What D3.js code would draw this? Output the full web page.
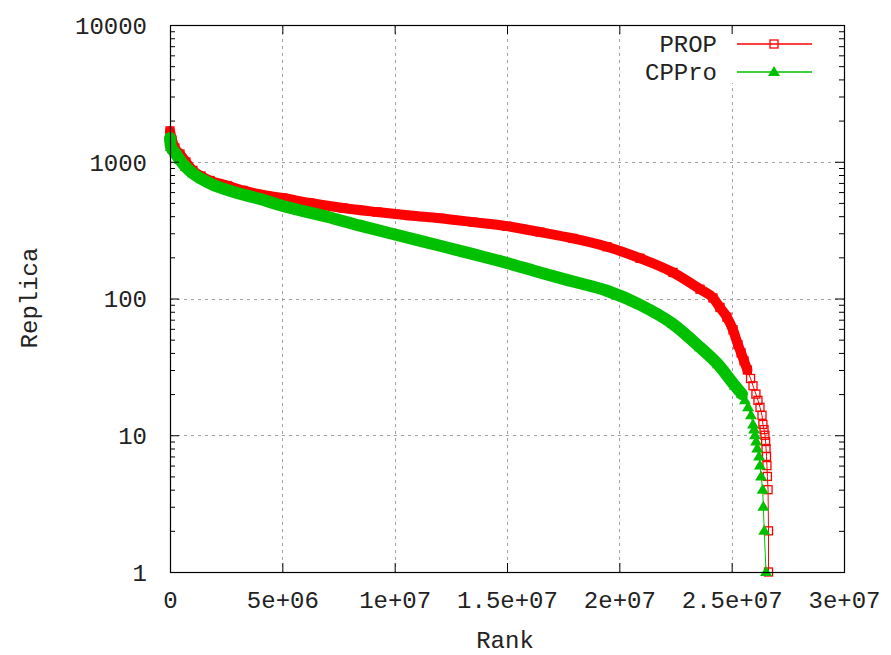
<!DOCTYPE html>
<html>
<head>
<meta charset="utf-8">
<script src="https://cdn.jsdelivr.net/npm/d3@7"></script>
<style>
  body { margin: 0; background: #fff; }
  svg text { font-family: "Liberation Mono", "DejaVu Sans Mono", monospace; fill: #222; }
</style>
</head>
<body>
<div id="chart"></div>
<script>
// data
var propRank = [0, 89000, 220000, 445000, 710000, 1020000, 1380000, 1780000, 2540000, 3250000,
    4010000, 5030000, 6230000, 7700000, 9210000, 10680000, 12020000, 13490000, 14990000, 16470000,
    17940000, 19450000, 20920000, 22390000, 23590000, 24170000, 24480000, 24790000, 25060000, 25280000,
    25420000, 25550000, 25700000, 25840000, 25950000, 26080000, 26170000, 26260000, 26350000, 26390000,
    26440000, 26480000, 26510000, 26530000, 26550000, 26570000, 26590000, 26620000, 26640000, 26640000];
var propReplica = [1680, 1443, 1261, 1139, 996, 863, 787, 729, 670, 617,
    576, 543, 499, 459, 429, 404, 386, 362, 338, 306,
    275, 239, 197, 155, 117, 101, 86, 73, 59, 46,
    40, 35, 30, 26, 23, 20, 18, 16, 14, 12,
    11, 10, 9, 8, 7, 6, 5, 4, 2, 1];

var cpproRank = [0, 45000, 220000, 445000, 710000, 1020000, 1780000, 2540000, 4010000, 5030000,
    6990000, 8460000, 9930000, 12020000, 13490000, 15000000, 16470000, 17940000, 19450000, 20920000,
    22390000, 23590000, 24390000, 25150000,
    25460000, 25590000, 25730000, 25860000, 25950000, 26000000, 26040000, 26090000, 26140000, 26220000,
    26260000, 26310000, 26380000, 26410000, 26450000, 26530000];
var cpproReplica = [1490, 1280, 1168, 1030, 915, 823, 696, 622, 534, 475,
    396, 341, 296, 243, 211, 182, 155, 133, 114, 90,
    65, 44, 33, 23,
    20, 18, 16, 14, 12, 11, 10, 9, 8, 7,
    6, 5, 4, 3, 2, 1];

var seriesNames = ["PROP", "CPPro"];
var xTicks = [0, 5e6, 1e7, 1.5e7, 2e7, 2.5e7, 3e7];
var xTickLabels = ["0", "5e+06", "1e+07", "1.5e+07", "2e+07", "2.5e+07", "3e+07"];
var yTicks = [1, 10, 100, 1000, 10000];
var yTickLabels = ["1", "10", "100", "1000", "10000"];

var W = 891, H = 655;
var pLeft = 170, pRight = 844, pTop = 25, pBottom = 572;

var svg = d3.select("#chart").append("svg")
    .attr("width", W).attr("height", H);
svg.append("rect").attr("width", W).attr("height", H).attr("fill", "#fff");

var x = d3.scaleLinear().domain([0, 3e7]).range([pLeft, pRight]);
var y = d3.scaleLog().domain([1, 10000]).range([pBottom, pTop]);

// grid
var grid = svg.append("g")
    .attr("stroke", "#a0a0a0").attr("stroke-width", 1).attr("stroke-dasharray", "3,4");
grid.selectAll("line.gx")
    .data(xTicks.slice(1, -1))
    .enter().append("line")
    .attr("x1", function(d) { return Math.round(x(d)) + 0.5; })
    .attr("x2", function(d) { return Math.round(x(d)) + 0.5; })
    .attr("y1", pTop).attr("y2", pBottom);
grid.selectAll("line.gy")
    .data(yTicks.slice(1, -1))
    .enter().append("line")
    .attr("y1", function(d) { return Math.round(y(d)) + 0.5; })
    .attr("y2", function(d) { return Math.round(y(d)) + 0.5; })
    .attr("x1", pLeft).attr("x2", pRight);

// key area hides the grid
svg.append("rect")
    .attr("x", 645).attr("y", 31).attr("width", 175).attr("height", 52)
    .attr("fill", "#fff");

// series
var red = "#ff0000", green = "#00c000";
var series = [
    { name: seriesNames[0], rank: propRank, rep: propReplica, color: red, band: 30, bandWidth: 10 },
    { name: seriesNames[1], rank: cpproRank, rep: cpproReplica, color: green, band: 20, bandWidth: 12 }
];

var line = d3.line()
    .x(function(d) { return x(d[0]); })
    .y(function(d) { return y(d[1]); })
    .curve(d3.curveMonotoneX);

function square(g, cx, cy, c) {
    g.append("rect")
        .attr("x", cx - 4).attr("y", cy - 4).attr("width", 8).attr("height", 8)
        .attr("fill", "none").attr("stroke", c).attr("stroke-width", 1.3);
}
function triangle(g, cx, cy, c) {
    g.append("path")
        .attr("d", "M" + (cx - 6) + "," + (cy + 4) + "L" + (cx + 6) + "," + (cy + 4) + "L" + cx + "," + (cy - 6) + "Z")
        .attr("fill", c);
}

series.forEach(function(s, i) {
    var pts = s.rank.map(function(r, j) { return [r, s.rep[j]]; });
    var bandPts = pts.filter(function(d) { return d[1] >= s.band; });
    var g = svg.append("g");
    g.append("path")
        .attr("d", line(bandPts))
        .attr("fill", "none").attr("stroke", s.color)
        .attr("stroke-width", s.bandWidth)
        .attr("stroke-linejoin", "round").attr("stroke-linecap", "round");
    g.append("path")
        .attr("d", d3.line().x(function(d) { return x(d[0]); }).y(function(d) { return y(d[1]); })(pts))
        .attr("fill", "none").attr("stroke", s.color).attr("stroke-width", 1);
    pts.forEach(function(d) {
        if (i === 0) square(g, x(d[0]), y(d[1]), s.color);
        else triangle(g, x(d[0]), y(d[1]), s.color);
    });
});

// axes
var axes = svg.append("g");
axes.append("g")
    .attr("transform", "translate(0," + pBottom + ")")
    .call(d3.axisBottom(x).tickValues(xTicks)
        .tickFormat(function(d, i) { return xTickLabels[i]; })
        .tickSizeInner(-9).tickSizeOuter(0).tickPadding(0))
    .call(function(g) {
        g.select(".domain").remove();
        g.selectAll("text").attr("y", 28).attr("dy", "0.35em")
            .attr("font-size", 24).attr("font-family", null);
    });
axes.append("g")
    .attr("transform", "translate(0," + pTop + ")")
    .call(d3.axisTop(x).tickValues(xTicks).tickFormat("").tickSizeInner(-9).tickSizeOuter(0))
    .call(function(g) { g.select(".domain").remove(); });

axes.append("g")
    .attr("transform", "translate(" + pLeft + ",0)")
    .call(d3.axisLeft(y).tickValues(yTicks)
        .tickFormat(function(d, i) { return yTickLabels[i]; })
        .tickSizeInner(-9).tickSizeOuter(0).tickPadding(23))
    .call(function(g) {
        g.select(".domain").remove();
        g.selectAll("text").attr("font-size", 24).attr("font-family", null).attr("dy", "0.35em");
    });
axes.append("g")
    .attr("transform", "translate(" + pRight + ",0)")
    .call(d3.axisRight(y).tickValues(yTicks).tickFormat("").tickSizeInner(-9).tickSizeOuter(0))
    .call(function(g) { g.select(".domain").remove(); });

var minor = [];
[1, 10, 100, 1000].forEach(function(dec) {
    for (var k = 2; k <= 9; k++) minor.push(dec * k);
});
axes.append("g")
    .attr("transform", "translate(" + pLeft + ",0)")
    .call(d3.axisLeft(y).tickValues(minor).tickFormat("").tickSizeInner(-5).tickSizeOuter(0))
    .call(function(g) { g.select(".domain").remove(); });
axes.append("g")
    .attr("transform", "translate(" + pRight + ",0)")
    .call(d3.axisRight(y).tickValues(minor).tickFormat("").tickSizeInner(-5).tickSizeOuter(0))
    .call(function(g) { g.select(".domain").remove(); });

axes.selectAll("line").attr("stroke", "#000");
axes.append("rect")
    .attr("x", pLeft + 0.5).attr("y", pTop + 0.5)
    .attr("width", pRight - pLeft).attr("height", pBottom - pTop)
    .attr("fill", "none").attr("stroke", "#000").attr("stroke-width", 1.2);

// axis titles
svg.append("text")
    .attr("x", 505).attr("y", 640).attr("dy", "0.35em")
    .attr("text-anchor", "middle").attr("font-size", 24)
    .text("Rank");
svg.append("text")
    .attr("transform", "translate(29,298) rotate(-90)")
    .attr("dy", "0.35em")
    .attr("text-anchor", "middle").attr("font-size", 24)
    .text("Replica");

// key
var key = svg.append("g");
series.forEach(function(s, i) {
    var ky = 44 + i * 28;
    key.append("text")
        .attr("x", 717).attr("y", ky).attr("dy", "0.35em")
        .attr("text-anchor", "end").attr("font-size", 24)
        .text(s.name);
    key.append("line")
        .attr("x1", 737).attr("x2", 812).attr("y1", ky).attr("y2", ky)
        .attr("stroke", s.color).attr("stroke-width", 1.3);
    if (i === 0) square(key, 774, ky, s.color);
    else triangle(key, 774, ky, s.color);
});
</script>
</body>
</html>
